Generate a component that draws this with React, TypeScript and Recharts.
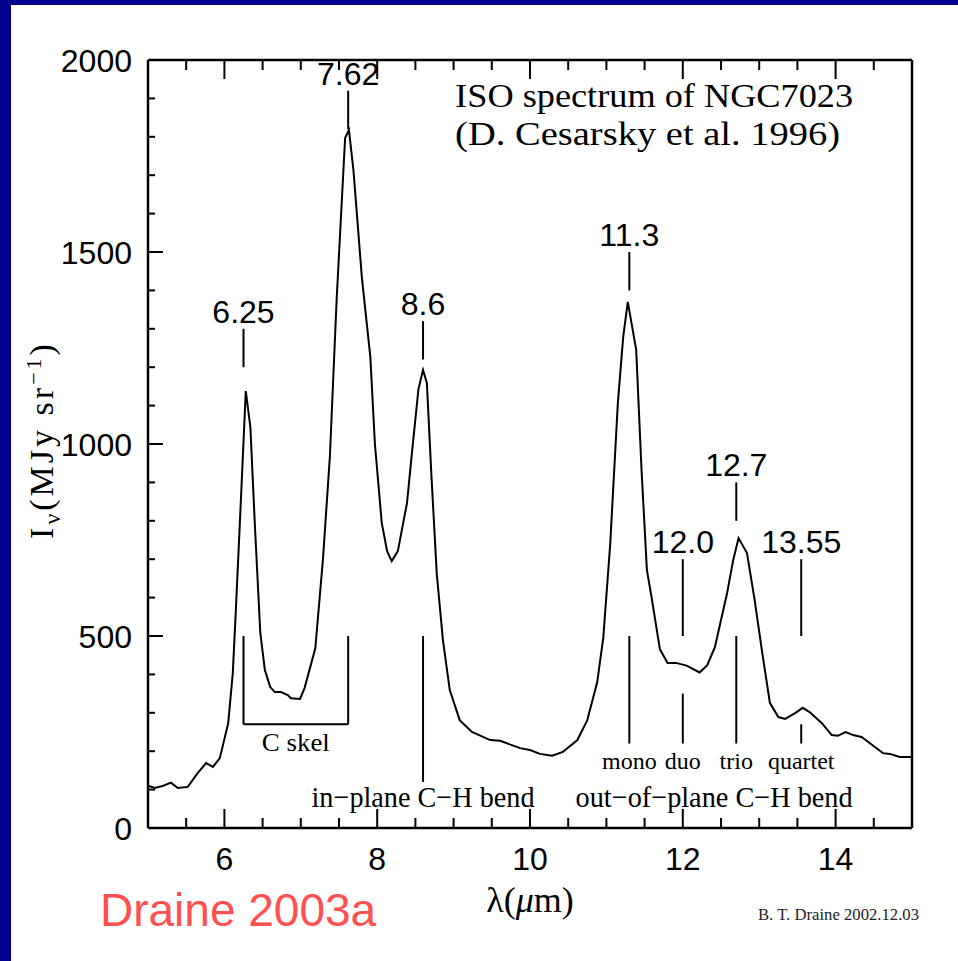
import React from 'react';
import { LineChart, Line, XAxis, YAxis, ReferenceLine, ReferenceDot } from 'recharts';

// ISO spectrum of NGC 7023 (wavelength in micron, intensity in MJy/sr)
const wavelength = [
  5.0, 5.09, 5.2, 5.3, 5.39, 5.52, 5.65, 5.76, 5.85, 5.94,
  6.05, 6.11, 6.15, 6.22, 6.28, 6.34, 6.4, 6.47, 6.53, 6.6,
  6.66, 6.74, 6.83, 6.87, 6.99, 7.05, 7.19, 7.29, 7.38, 7.47,
  7.58, 7.63, 7.69, 7.8, 7.91, 7.97, 8.06, 8.13, 8.19, 8.27,
  8.39, 8.45, 8.54, 8.6, 8.65, 8.71, 8.78, 8.86, 8.95, 9.08,
  9.24, 9.48, 9.61, 9.87, 10.0, 10.13, 10.29, 10.43, 10.62, 10.75,
  10.88, 10.96, 11.05, 11.15, 11.22, 11.28, 11.39, 11.46, 11.53, 11.6,
  11.7, 11.8, 11.91, 12.05, 12.22, 12.32, 12.42, 12.58, 12.66, 12.73,
  12.84, 12.94, 13.04, 13.14, 13.25, 13.34, 13.47, 13.57, 13.66, 13.82,
  13.95, 14.03, 14.13, 14.23, 14.34, 14.48, 14.62, 14.71, 14.84, 15.0,
];
const intensity = [
  110, 104, 110, 118, 104, 107, 143, 169, 159, 182,
  273, 404, 568, 872, 1138, 1044, 784, 508, 411, 367,
  354, 354, 346, 338, 336, 365, 468, 700, 965, 1380,
  1797, 1818, 1711, 1432, 1227, 1000, 794, 721, 695, 721,
  846, 968, 1143, 1193, 1159, 917, 661, 490, 359, 281,
  250, 229, 227, 208, 203, 193, 188, 198, 229, 281,
  380, 497, 740, 1107, 1279, 1370, 1245, 932, 672, 590,
  466, 430, 430, 423, 405, 424, 471, 612, 698, 755,
  716, 594, 456, 326, 289, 284, 299, 313, 302, 273,
  242, 240, 250, 242, 237, 216, 195, 193, 185, 185,
];

const xTicks = [5, 5.5, 6, 6.5, 7, 7.5, 8, 8.5, 9, 9.5, 10, 10.5, 11, 11.5, 12, 12.5, 13, 13.5, 14, 14.5, 15];
const xLabelled = [6, 8, 10, 12, 14];
const yTicks = [0, 100, 200, 300, 400, 500, 600, 700, 800, 900, 1000, 1100, 1200, 1300, 1400, 1500, 1600, 1700, 1800, 1900, 2000];
const yLabelled = [0, 500, 1000, 1500, 2000];

// band centres with their marker extents (in MJy/sr)
const peakBands = [
  { at: 6.25, label: '6.25', from: 1200, to: 1300 },
  { at: 7.62, label: '7.62', from: 1820, to: 1920 },
  { at: 8.6, label: '8.6', from: 1220, to: 1320 },
  { at: 11.3, label: '11.3', from: 1400, to: 1500 },
  { at: 12.0, label: '12.0', from: 500, to: 700 },
  { at: 12.7, label: '12.7', from: 800, to: 900 },
  { at: 13.55, label: '13.55', from: 500, to: 700 },
];
const ohBands = [
  { at: 11.3, label: 'mono', from: 220, to: 500 },
  { at: 12.0, label: 'duo', from: 220, to: 350 },
  { at: 12.7, label: 'trio', from: 220, to: 500 },
  { at: 13.55, label: 'quartet', from: 220, to: 270 },
];
const cSkel = { from: 6.25, to: 7.62, low: 270, high: 500 };
const inPlane = { at: 8.6, from: 120, to: 500 };

const data = wavelength.map((w, i) => ({ lambda: w, flux: intensity[i] }));

const SANS = "'Liberation Sans', Arial, sans-serif";
const SERIF = "'Liberation Serif', 'Times New Roman', serif";
const INK = '#000';

const BottomTick = (props: any) => {
  const { x, y, payload } = props;
  const big = xLabelled.includes(payload.value);
  return (
    <g>
      <line x1={x} x2={x} y1={y} y2={y - (big ? 19 : 10)} stroke={INK} strokeWidth={2} />
      {big && (
        <text x={x} y={y + 42} textAnchor="middle" fontFamily={SANS} fontSize={32} fill={INK}>
          {payload.value}
        </text>
      )}
    </g>
  );
};

const TopTick = (props: any) => {
  const { x, y, payload } = props;
  const big = xLabelled.includes(payload.value);
  return <line x1={x} x2={x} y1={y} y2={y + (big ? 19 : 10)} stroke={INK} strokeWidth={2} />;
};

const LeftTick = (props: any) => {
  const { x, y, payload } = props;
  const big = yLabelled.includes(payload.value);
  return (
    <g>
      <line x1={x} x2={x + (big ? 15 : 7)} y1={y} y2={y} stroke={INK} strokeWidth={2} />
      {big && (
        <text x={x - 16} y={y + 12} textAnchor="end" fontFamily={SANS} fontSize={32} fill={INK}>
          {payload.value}
        </text>
      )}
    </g>
  );
};

const RightTick = (props: any) => {
  const { x, y, payload } = props;
  const big = yLabelled.includes(payload.value);
  return <line x1={x} x2={x - (big ? 15 : 7)} y1={y} y2={y} stroke={INK} strokeWidth={2} />;
};

const textAbove = (text: string) => (p: any) => {
  const vb = p.viewBox;
  return (
    <text x={vb.x} y={vb.y - 6} textAnchor="middle" fontFamily={SANS} fontSize={32} fill={INK}>
      {text}
    </text>
  );
};

const textBelow = (text: string, size: number, gap: number, width?: number) => (p: any) => {
  const vb = p.viewBox;
  return (
    <text
      x={vb.x + vb.width / 2}
      y={vb.y + vb.height + gap}
      textAnchor="middle"
      fontFamily={SERIF}
      fontSize={size}
      fill={INK}
      textLength={width}
      lengthAdjust={width ? 'spacingAndGlyphs' : undefined}
    >
      {text}
    </text>
  );
};

const textAt = (text: string, size: number, width: number) => (p: any) => {
  const vb = p.viewBox;
  return (
    <text x={vb.x} y={vb.y} fontFamily={SERIF} fontSize={size} fill={INK} textLength={width} lengthAdjust="spacingAndGlyphs">
      {text}
    </text>
  );
};

const textCentred = (text: string, size: number, width: number) => (p: any) => {
  const vb = p.viewBox;
  return (
    <text x={vb.x} y={vb.y} textAnchor="middle" fontFamily={SERIF} fontSize={size} fill={INK} textLength={width} lengthAdjust="spacingAndGlyphs">
      {text}
    </text>
  );
};

const markStroke = { stroke: INK, strokeWidth: 2 };

export default function App() {
  return (
    <div style={{ position: 'absolute', left: 0, top: 0, width: 958, height: 961, background: '#fff', overflow: 'hidden' }}>
      <div style={{ position: 'absolute', left: 0, top: 0, width: 958, height: 5, background: '#00008c' }} />
      <div style={{ position: 'absolute', left: 0, top: 0, width: 11, height: 961, background: '#00008c' }} />

      <div style={{ position: 'absolute', left: 0, top: 0 }}>
        <LineChart width={958} height={961} data={data} margin={{ top: 59, right: 45, bottom: 93, left: 88 }}>
          <XAxis
            xAxisId={0}
            dataKey="lambda"
            type="number"
            domain={[5, 15]}
            ticks={xTicks}
            interval={0}
            height={40}
            tickSize={0}
            tickMargin={0}
            tickLine={false}
            axisLine={{ stroke: INK, strokeWidth: 2.5 }}
            tick={BottomTick}
          />
          <XAxis
            xAxisId="top"
            orientation="top"
            dataKey="lambda"
            type="number"
            domain={[5, 15]}
            ticks={xTicks}
            interval={0}
            height={1}
            tickSize={0}
            tickMargin={0}
            tickLine={false}
            axisLine={{ stroke: INK, strokeWidth: 2.5 }}
            tick={TopTick}
          />
          <YAxis
            yAxisId={0}
            type="number"
            domain={[0, 2000]}
            ticks={yTicks}
            interval={0}
            width={60}
            tickSize={0}
            tickMargin={0}
            tickLine={false}
            axisLine={{ stroke: INK, strokeWidth: 2.5 }}
            tick={LeftTick}
          />
          <YAxis
            yAxisId="right"
            orientation="right"
            type="number"
            domain={[0, 2000]}
            ticks={yTicks}
            interval={0}
            width={1}
            tickSize={0}
            tickMargin={0}
            tickLine={false}
            axisLine={{ stroke: INK, strokeWidth: 2.5 }}
            tick={RightTick}
          />

          {peakBands.map((b) => (
            <ReferenceLine
              key={'p' + b.label}
              segment={[{ x: b.at, y: b.from }, { x: b.at, y: b.to }]}
              {...markStroke}
              label={textAbove(b.label)}
            />
          ))}
          {ohBands.map((b) => (
            <ReferenceLine
              key={'o' + b.label}
              segment={[{ x: b.at, y: b.from }, { x: b.at, y: b.to }]}
              {...markStroke}
              label={textBelow(b.label, 24, 25)}
            />
          ))}

          <ReferenceLine segment={[{ x: cSkel.from, y: cSkel.low }, { x: cSkel.from, y: cSkel.high }]} {...markStroke} />
          <ReferenceLine segment={[{ x: cSkel.to, y: cSkel.low }, { x: cSkel.to, y: cSkel.high }]} {...markStroke} />
          <ReferenceLine
            segment={[{ x: cSkel.from, y: cSkel.low }, { x: cSkel.to, y: cSkel.low }]}
            {...markStroke}
            label={textBelow('C skel', 26, 27, 68)}
          />
          <ReferenceLine
            segment={[{ x: inPlane.at, y: inPlane.from }, { x: inPlane.at, y: inPlane.to }]}
            {...markStroke}
            label={textBelow('in\u2212plane C\u2212H bend', 30, 25, 223)}
          />
          <ReferenceDot x={12.41} y={55} r={0} fill="none" stroke="none" label={textCentred('out\u2212of\u2212plane C\u2212H bend', 30, 277)} />
          <ReferenceDot x={9.02} y={1878} r={0} fill="none" stroke="none" label={textAt('ISO spectrum of NGC7023', 34, 398)} />
          <ReferenceDot x={9.02} y={1779} r={0} fill="none" stroke="none" label={textAt('(D. Cesarsky et al. 1996)', 34, 385)} />

          <Line
            type="linear"
            dataKey="flux"
            stroke={INK}
            strokeWidth={2}
            dot={false}
            activeDot={false}
            isAnimationActive={false}
          />
        </LineChart>
      </div>

      <svg width={958} height={961} style={{ position: 'absolute', left: 0, top: 0, pointerEvents: 'none' }}>
        <text transform="translate(53,440) rotate(-90)" textAnchor="middle" fontFamily={SERIF} fontSize={34} fill={INK} letterSpacing={3}>
          I<tspan dy={7} fontSize={24}>{'\u03bd'}</tspan>
          <tspan dy={-7}>(MJy sr</tspan>
          <tspan dy={-12} fontSize={22}>{'\u22121'}</tspan>
          <tspan dy={12}>)</tspan>
        </text>
        <text x={530} y={912} textAnchor="middle" fontFamily={SERIF} fontSize={36} fill={INK}>
          {'\u03bb('}
          <tspan fontStyle="italic">{'\u03bc'}</tspan>
          {'m)'}
        </text>
        <text x={100} y={926} fontFamily={SANS} fontSize={46} fill="#ff5050">
          Draine 2003a
        </text>
        <text x={758} y={920} fontFamily={SERIF} fontSize={17} fill="#222" textLength={161} lengthAdjust="spacingAndGlyphs">
          B. T. Draine  2002.12.03
        </text>
      </svg>
    </div>
  );
}
